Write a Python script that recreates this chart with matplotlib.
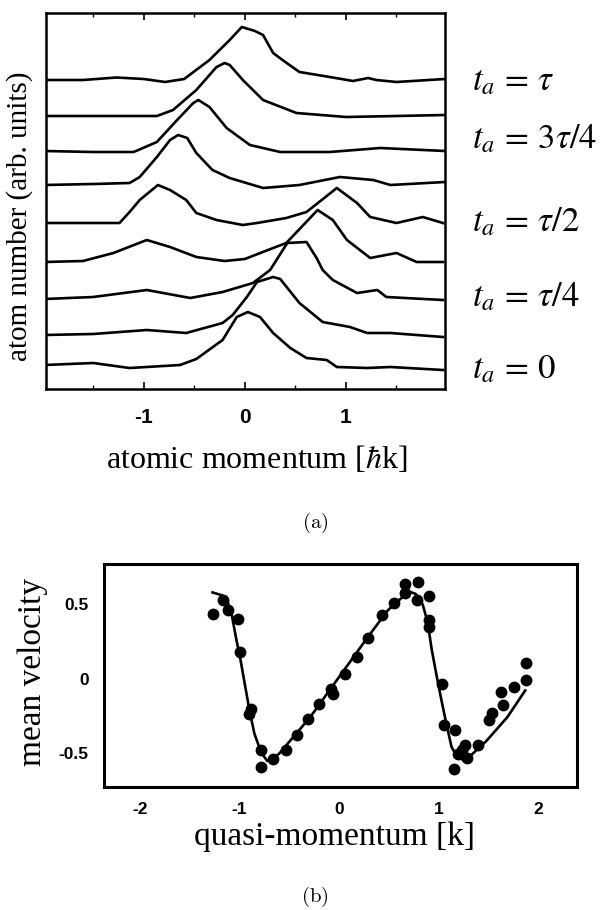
import numpy as np
import matplotlib
matplotlib.use('Agg')
import matplotlib.pyplot as plt

plt.rcParams['font.family'] = ['Liberation Serif', 'DejaVu Serif']
plt.rcParams['mathtext.fontset'] = 'stix'
plt.rcParams['axes.unicode_minus'] = False

# (a) momentum distributions, t_a from tau (top) down to 0 in steps of tau/8
k_t8 = [-1.98, -1.6, -1.27, -1.0, -0.79, -0.6, -0.35, -0.15, -0.03, 0.1, 0.18, 0.28, 0.4, 0.54, 0.84, 1.07, 1.22, 1.3, 1.5, 1.98]
n_t8 = [309, 309, 311.5, 310, 307, 310, 329, 349, 362, 358, 354, 336, 327, 317, 312, 308, 311, 309, 307, 310]
k_t7 = [-1.98, -1.5, -1.1, -0.87, -0.71, -0.48, -0.28, -0.2, -0.15, -0.02, 0.18, 0.51, 1.0, 1.5, 1.98]
n_t7 = [273, 273, 273, 273, 279, 299, 322, 326, 324, 309, 289, 276, 272, 273, 274]
k_t6 = [-1.98, -1.5, -1.1, -0.87, -0.67, -0.51, -0.46, -0.35, -0.18, 0.05, 0.35, 0.84, 1.34, 1.98]
n_t6 = [238, 237, 237, 247, 269, 286, 289, 282, 261, 244, 237, 237, 241, 238]
k_t5 = [-1.98, -1.5, -1.14, -1.04, -0.87, -0.74, -0.66, -0.57, -0.48, -0.32, -0.15, 0.18, 0.54, 0.94, 1.27, 1.44, 1.98]
n_t5 = [204, 205, 206, 212, 232, 249, 254, 251, 236, 219, 211, 201, 204, 212, 209, 204, 207]
k_t4 = [-1.98, -1.5, -1.24, -1.14, -1.04, -0.86, -0.74, -0.58, -0.48, -0.28, -0.02, 0.12, 0.41, 0.61, 0.91, 1.11, 1.24, 1.5, 1.76, 1.96]
n_t4 = [166, 166, 166, 177, 189, 204, 199, 189, 176, 169, 164, 166, 171, 177, 201, 186, 172, 166, 172, 166]
k_t3 = [-1.98, -1.6, -1.3, -0.97, -0.74, -0.48, -0.2, 0.0, 0.28, 0.41, 0.72, 0.87, 1.01, 1.24, 1.5, 1.7, 1.96]
n_t3 = [127, 128, 136, 149, 142, 132, 128, 130, 141, 146, 179, 169, 149, 131, 136, 127, 127]
k_t2 = [-1.98, -1.5, -0.97, -0.54, -0.22, 0.08, 0.25, 0.42, 0.61, 0.71, 0.77, 0.87, 1.11, 1.31, 1.4, 1.96]
n_t2 = [90, 92, 99, 91, 97, 106, 119, 146, 147, 131, 119, 109, 96, 99, 92, 89]
k_t1 = [-1.98, -1.5, -0.97, -0.58, -0.22, -0.12, 0.02, 0.12, 0.28, 0.35, 0.54, 0.77, 1.04, 1.21, 1.44, 1.96]
n_t1 = [54, 55, 59, 56, 66, 74, 92, 107, 112, 110, 86, 67, 62, 56, 56, 52]
k_t0 = [-1.98, -1.5, -1.14, -0.64, -0.48, -0.22, -0.08, 0.03, 0.15, 0.28, 0.45, 0.61, 0.81, 0.91, 1.21, 1.44, 1.96]
n_t0 = [24, 26, 21, 24, 30, 49, 72, 77, 72, 56, 41, 31, 29, 22, 21, 22, 19]

time_labels = [r'$t_a \,=\, \tau$', r'$t_a \,=\, 3\tau/4$', r'$t_a \,=\, \tau/2$',
               r'$t_a \,=\, \tau/4$', r'$t_a \,=\, 0$']

# (b) mean velocity vs quasi-momentum
q_meas = [-1.27, -1.16, -1.11, -1.01, -0.99, -0.88, -0.9, -0.78, -0.78, -0.66, -0.53, -0.42, -0.31, -0.2,
          -0.08, -0.06, 0.06, 0.18, 0.29, 0.43, 0.55, 0.66, 0.66, 0.79, 0.78, 0.9, 0.9, 0.9,
          1.03, 1.05, 1.16, 1.15, 1.19, 1.27, 1.29, 1.4, 1.51, 1.54, 1.63, 1.65, 1.76, 1.88, 1.88, 1.24]
v_meas = [0.434, 0.528, 0.465, 0.398, 0.18, -0.205, -0.236, -0.483, -0.596, -0.539, -0.483, -0.382, -0.27, -0.169,
          -0.067, -0.101, 0.034, 0.146, 0.27, 0.427, 0.506, 0.64, 0.573, 0.652, 0.528, 0.555, 0.393, 0.348,
          -0.034, -0.31, -0.348, -0.61, -0.506, -0.449, -0.535, -0.449, -0.281, -0.231, -0.09, -0.18, -0.056, -0.007, 0.106, -0.483]
q_theory = [-1.27, -1.17, -1.12, -1.08, -1.03, -0.99, -0.94, -0.90, -0.85, -0.78, -0.72, -0.66, -0.60, -0.29, 0.0,
            0.29, 0.49, 0.64, 0.71, 0.77, 0.84, 0.89, 0.93, 0.98, 1.03, 1.08, 1.13, 1.19, 1.24, 1.32, 1.48, 1.69, 1.87]
v_theory = [0.58, 0.56, 0.52, 0.44, 0.26, 0.13, -0.06, -0.21, -0.37, -0.50, -0.555, -0.535, -0.505, -0.26, 0.01,
            0.28, 0.46, 0.55, 0.585, 0.57, 0.50, 0.38, 0.20, 0.02, -0.15, -0.31, -0.46, -0.53, -0.545, -0.52, -0.42, -0.26, -0.08]

W, H = 607, 910
fig = plt.figure(figsize=(W / 100, H / 100), dpi=100)

def frac(l, t, r, b):
    return [l / W, 1 - b / H, (r - l) / W, (b - t) / H]

tickfont = {'family': 'Liberation Sans', 'weight': 'bold'}

# ---- panel (a)
ax = fig.add_axes(frac(45.7, 12.7, 445, 389))
traces = [(k_t8, n_t8), (k_t7, n_t7), (k_t6, n_t6), (k_t5, n_t5), (k_t4, n_t4),
          (k_t3, n_t3), (k_t2, n_t2), (k_t1, n_t1), (k_t0, n_t0)]
for k, n in traces:
    ax.plot(k, n, color='black', lw=1.9, solid_joinstyle='round')
ax.set_xlim(-1.97, 1.98)
ax.set_ylim(0, 376.3)
ax.set_xticks([-1, 0, 1])
ax.set_xticklabels(['-1', '0', '1'], fontdict=tickfont, fontsize=15)
ax.set_xticks([-1.5, -0.5, 0.5, 1.5], minor=True)
ax.set_yticks([])
ax.tick_params(axis='x', which='both', direction='in', top=True, pad=14)
ax.tick_params(axis='x', which='major', length=5, width=1.2)
ax.tick_params(axis='x', which='minor', length=3, width=1)
for s in ax.spines.values():
    s.set_linewidth(1.8)
ax.set_xlabel(r'atomic momentum [$\hbar$k]', fontsize=23)
ax.xaxis.set_label_coords((257 - 45.7) / 399.3, (389 - 460) / 376.3)
ax.xaxis.label.set_va('center')
ax.set_ylabel('atom number (arb. units)', fontsize=21)
ax.yaxis.set_label_coords((20 - 45.7) / 399.3, (389 - 216) / 376.3)
ax.yaxis.label.set_va('center')

for lab, yc in zip(time_labels, [82, 140, 223, 298, 370]):
    fig.text(472 / W, 1 - yc / H, lab, fontsize=25, ha='left', va='center')

fig.text(315 / W, 1 - 523 / H, r'$\mathrm{(a)}$', fontsize=15, ha='center', va='center',
         math_fontfamily='cm')

# ---- panel (b)
bx = fig.add_axes(frac(104, 563.5, 577, 787))
bx.plot(q_theory, v_theory, color='black', lw=1.9)
bx.plot(q_meas, v_meas, 'o', color='black', ms=7.5)
bx.set_xlim(-2.36, 2.39)
bx.set_ylim(-0.73, 0.775)
bx.set_xticks([-2, -1, 0, 1, 2])
bx.set_xticklabels(['-2', '-1', '0', '1', '2'], fontdict=tickfont, fontsize=12.5)
bx.set_yticks([-0.5, 0, 0.5])
bx.set_yticklabels(['-0.5', '0', '0.5'], fontdict=tickfont, fontsize=12.5)
bx.tick_params(which='both', length=0, pad=11)
for s in bx.spines.values():
    s.set_linewidth(2.2)
bx.set_xlabel('quasi-momentum [k]', fontsize=24)
bx.xaxis.set_label_coords((334 - 104) / 473, (787 - 837) / 223.5)
bx.xaxis.label.set_va('center')
bx.set_ylabel('mean velocity', fontsize=24)
bx.yaxis.set_label_coords((33 - 104) / 473, (787 - 672) / 223.5)
bx.yaxis.label.set_va('center')

fig.text(315 / W, 1 - 897 / H, r'$\mathrm{(b)}$', fontsize=15, ha='center', va='center',
         math_fontfamily='cm')

fig.savefig('out.png', dpi=100)
